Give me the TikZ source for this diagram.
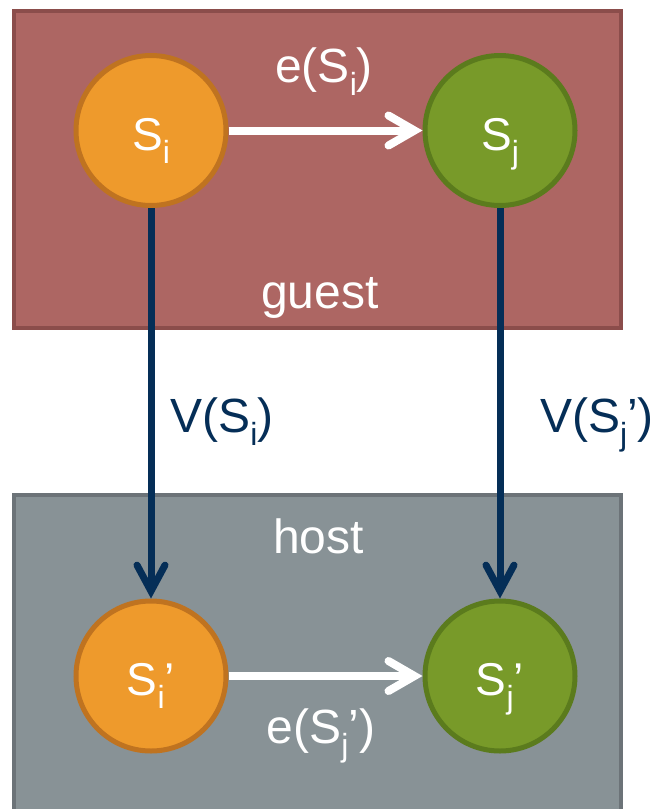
\documentclass[tikz,border=0pt]{standalone}
\usepackage{fontspec}
\setmainfont{Liberation Sans}
\usetikzlibrary{arrows.meta}
\definecolor{guestfill}{HTML}{AD6663}
\definecolor{guestline}{HTML}{8B4D4B}
\definecolor{hostfill}{HTML}{889296}
\definecolor{hostline}{HTML}{6C7378}
\definecolor{orangefill}{HTML}{EE9A2C}
\definecolor{orangeline}{HTML}{BF7320}
\definecolor{greenfill}{HTML}{789A29}
\definecolor{greenline}{HTML}{5B7B1D}
\definecolor{navy}{HTML}{052E57}
\newcommand{\subx}[1]{\raisebox{-13pt}{\fontsize{32}{32}\selectfont #1}}
\tikzset{
  region/.style={line width=4pt},
  statenode/.style={circle, minimum size=150pt, line width=5pt, inner sep=0pt,
    text=white, font=\fontsize{46}{50}\selectfont, text height=39pt, text depth=0pt},
  orangestate/.style={statenode, fill=orangefill, draw=orangeline},
  greenstate/.style={statenode, fill=greenfill, draw=greenline},
  whitearrow/.style={draw=white, line width=8pt,
    -{Straight Barb[length=26pt 0, width=30pt 0, line cap=round]}},
  navyarrow/.style={draw=navy, line width=7pt,
    -{Straight Barb[length=26pt 0, width=28pt 0, line cap=round]}},
  lbl/.style={anchor=base, inner sep=0pt, font=\fontsize{48}{52}\selectfont},
}
\begin{document}
\begin{tikzpicture}[x=1pt,y=-1pt]
\clip (0,0) rectangle (657,809);
\fill[white] (0,0) rectangle (657,809);
% regions
\draw[region, fill=guestfill, draw=guestline] (14,11) rectangle (621,328);
\draw[region, fill=hostfill, draw=hostline] (14,495) rectangle (621,840);
% states
\node[orangestate] (si) at (151,130.5) {S\subx{i}};
\node[greenstate] (sj) at (500,130.5) {S\subx{j}};
\node[orangestate] (sip) at (151,676) {S\subx{i}’};
\node[greenstate] (sjp) at (500,676) {S\subx{j}’};
% labels
\node[lbl, text=white] (esi) at (324,82) {e(S\subx{i})};
\node[lbl, text=white] (guest) at (320,308) {guest};
\node[lbl, text=white] (host) at (318.5,553) {host};
\node[lbl, text=navy] (vsi) at (222,432) {V(S\subx{i})};
\node[lbl, text=navy] (vsj) at (597,432) {V(S\subx{j}’)};
\node[lbl, text=white] (esj) at (321,743) {e(S\subx{j}’)};
% connectors
\draw[whitearrow] (si) -- (sj);
\draw[whitearrow] (sip) -- (sjp);
\draw[navyarrow] (si) -- (sip);
\draw[navyarrow] (sj) -- (sjp);
\end{tikzpicture}
\end{document}
